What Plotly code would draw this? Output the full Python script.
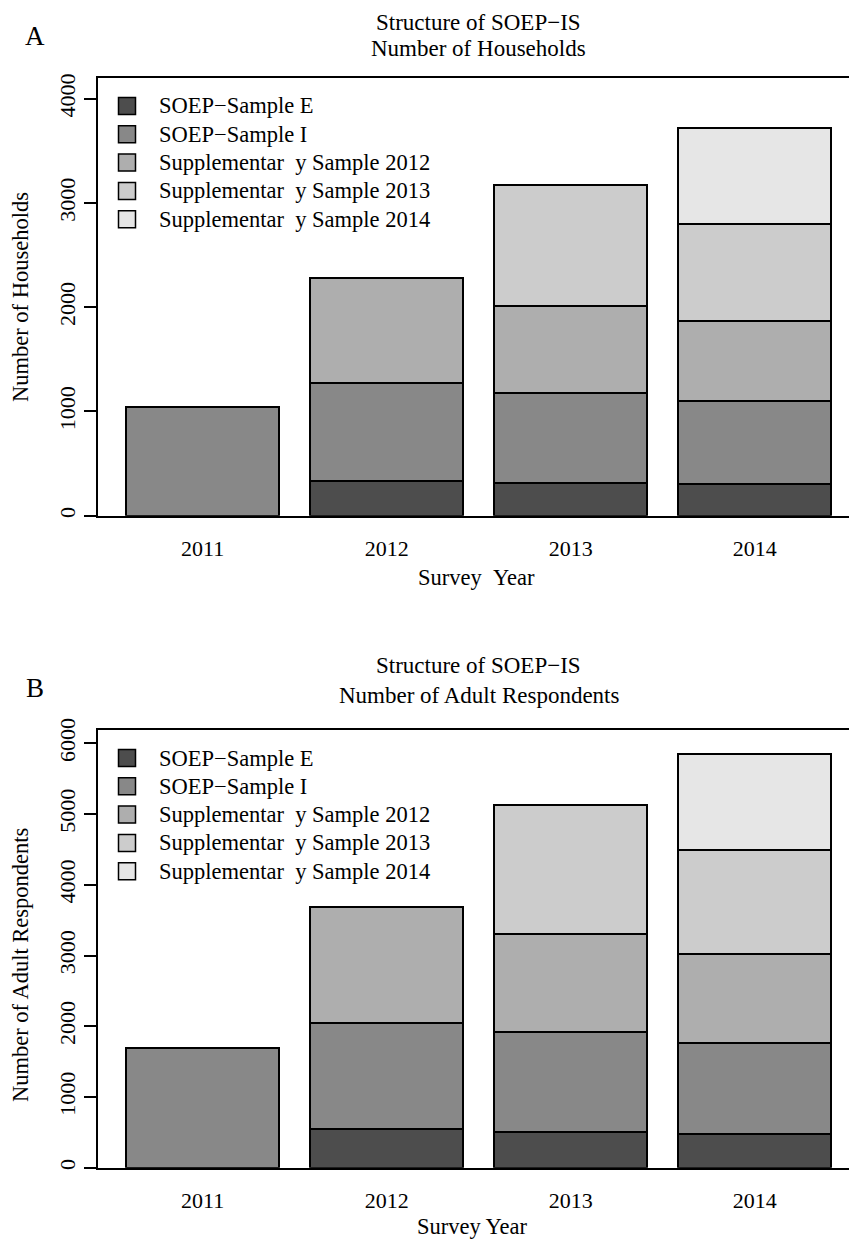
import plotly.graph_objects as go

# ---------------- data ----------------
years = ["2011", "2012", "2013", "2014"]
series_names = [
    "SOEP\u2212Sample E",
    "SOEP\u2212Sample I",
    "Supplementar\u00a0 y Sample 2012",
    "Supplementar\u00a0 y Sample 2013",
    "Supplementar\u00a0 y Sample 2014",
]
colors = ["#4D4D4D", "#888888", "#AEAEAE", "#CCCCCC", "#E6E6E6"]

# Panel A: number of households
hh_sample_e = [0, 336, 311, 301]
hh_sample_i = [1042, 935, 864, 800]
hh_supp_2012 = [0, 1007, 835, 767]
hh_supp_2013 = [0, 0, 1167, 931]
hh_supp_2014 = [0, 0, 0, 925]

# Panel B: number of adult respondents
ad_sample_e = [0, 551, 505, 481]
ad_sample_i = [1697, 1495, 1409, 1278]
ad_supp_2012 = [0, 1644, 1386, 1267]
ad_supp_2013 = [0, 0, 1828, 1466]
ad_supp_2014 = [0, 0, 0, 1361]

y_ticks_a = [0, 1000, 2000, 3000, 4000]
y_ticks_b = [0, 1000, 2000, 3000, 4000, 5000, 6000]

# ---------------- layout helpers ----------------
W, H = 857, 1241
OFF = 8  # page body margin of the browser
FONT = "Liberation Serif"
FS = 22


def fy(px):
    return 1 - (px - OFF) / H


def fx(px):
    return (px - OFF) / W


fig = go.Figure()

panel_a = [hh_sample_e, hh_sample_i, hh_supp_2012, hh_supp_2013, hh_supp_2014]
panel_b = [ad_sample_e, ad_sample_i, ad_supp_2012, ad_supp_2013, ad_supp_2014]

for name, vals, col in zip(series_names, panel_a, colors):
    fig.add_trace(go.Bar(
        x=years, y=vals, name=name,
        marker=dict(color=col, line=dict(color="black", width=1.8)),
        xaxis="x", yaxis="y", showlegend=False,
    ))
for name, vals, col in zip(series_names, panel_b, colors):
    fig.add_trace(go.Bar(
        x=years, y=vals, name=name,
        marker=dict(color=col, line=dict(color="black", width=1.8)),
        xaxis="x2", yaxis="y2", showlegend=False,
    ))

xdom = [fx(97.8), 1.0]
xrange = [-0.570, 3.5995]

axis_common = dict(
    showgrid=False, zeroline=False, showline=True, linecolor="black", linewidth=2,
    tickfont=dict(family=FONT, size=FS, color="black"),
)

fig.update_layout(
    width=W, height=H,
    margin=dict(l=0, r=0, t=0, b=0, autoexpand=False),
    paper_bgcolor="white", plot_bgcolor="white",
    barmode="stack", bargap=0.1667,
    font=dict(family=FONT, size=FS, color="black"),
    showlegend=False,
    xaxis=dict(domain=xdom, range=xrange, anchor="y", mirror=True, ticks="",
               ticklabelstandoff=12, **axis_common),
    yaxis=dict(domain=[fy(515.7), fy(78)], range=[0, 4200], anchor="x",
               tickvals=y_ticks_a, ticks="outside", ticklen=12, tickwidth=1.6,
               tickcolor="black", tickangle=-90, ticklabelstandoff=0, **axis_common),
    xaxis2=dict(domain=xdom, range=xrange, anchor="y2", mirror=True, ticks="",
                ticklabelstandoff=12, **axis_common),
    yaxis2=dict(domain=[fy(1167.7), fy(730)], range=[0, 6188], anchor="x2",
                tickvals=y_ticks_b, ticks="outside", ticklen=12, tickwidth=1.6,
                tickcolor="black", tickangle=-90, ticklabelstandoff=0, **axis_common),
)

ann = []
shapes = []


def text(x, y, s, size=FS, angle=0, xanchor="center"):
    ann.append(dict(x=fx(x), y=fy(y), xref="paper", yref="paper", text=s,
                    showarrow=False, xanchor=xanchor, yanchor="middle",
                    textangle=angle, font=dict(family=FONT, size=size, color="black")))


def legend_block(top_row_y, row_step):
    for i, (name, col) in enumerate(zip(series_names, colors)):
        yc = top_row_y + i * row_step
        shapes.append(dict(type="rect", xref="paper", yref="paper",
                           x0=fx(118.5), x1=fx(135.5), y0=fy(yc + 8.5), y1=fy(yc - 8.5),
                           fillcolor=col, line=dict(color="black", width=1.5)))
        text(157, yc, name, 22.5, xanchor="left")


text(479, 22.5, "Structure of SOEP\u2212IS", 23)
text(479, 48, "Number of Households", 23)
text(35, 36, "A", 27)
text(20, 297, "Number of Households", 22.5, -90)
text(476, 577, "Survey\u00a0\u00a0Year", 22.5)
legend_block(106, 28.3)

text(479, 665, "Structure of SOEP\u2212IS", 23)
text(479, 695, "Number of Adult Respondents", 23)
text(35, 688, "B", 27)
text(20, 965, "Number of Adult Respondents", 22.5, -90)
text(472, 1226, "Survey Year", 22.5)
legend_block(758, 28.3)

fig.update_layout(annotations=ann, shapes=shapes)

fig.write_html("out.html")
